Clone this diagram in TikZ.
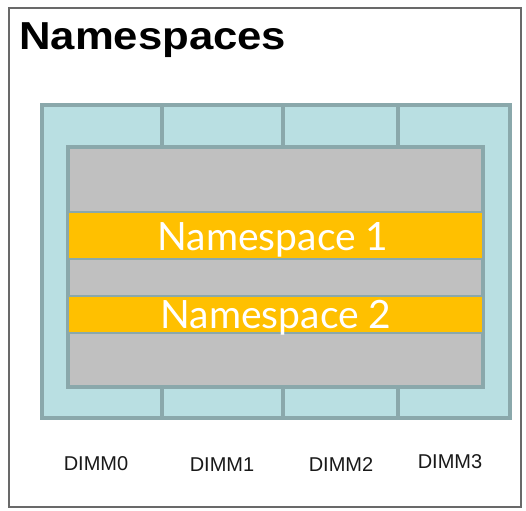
\documentclass[tikz,border=0pt]{standalone}
\usepackage{fontspec}
\setmainfont{Liberation Sans}
\newfontfamily\nsfont{Lato}
\definecolor{tealfill}{RGB}{185,223,226}
\definecolor{tealline}{RGB}{138,168,171}
\definecolor{grayfill}{RGB}{192,192,192}
\definecolor{nsyellow}{RGB}{255,192,0}
\definecolor{framec}{RGB}{105,105,105}
\begin{document}
\begin{tikzpicture}[x=1pt,y=-1pt,
  box/.style={rectangle,inner sep=0pt,outer sep=0pt,anchor=north west},
  dimmbox/.style={box,fill=tealfill,draw=tealline,line width=3.2pt},
  graybox/.style={box,fill=grayfill,draw=tealline,line width=3.2pt},
  nsband/.style={box,fill=nsyellow,draw=tealline,line width=2.2pt},
  nstext/.style={font=\nsfont\fontsize{39}{39}\selectfont,text=white,anchor=base,inner sep=0pt},
  dimmlabel/.style={font=\fontsize{20}{20}\selectfont,text=black!90,inner sep=0pt}]
\useasboundingbox (0,0) rectangle (526,510);
\fill[white] (0,0) rectangle (526,510);
% outer frame
\node[box,draw=framec,line width=2pt,minimum width=512pt,minimum height=499pt] (frame) at (9,8) {};
% title
\node[anchor=base west,inner sep=0pt,font=\bfseries\fontsize{39}{39}\selectfont] (title) at (19,50) {\scalebox{1.12}[1]{Namespaces}};
% DIMM columns
\node[dimmbox,minimum width=120pt,minimum height=313pt] (d0) at (42,105) {};
\node[dimmbox,minimum width=121pt,minimum height=313pt] (d1) at (162,105) {};
\node[dimmbox,minimum width=115pt,minimum height=313pt] (d2) at (283,105) {};
\node[dimmbox,minimum width=112pt,minimum height=313pt] (d3) at (398,105) {};
% gray block
\node[graybox,minimum width=415pt,minimum height=240pt] (gray) at (68,147) {};
% namespace bands
\node[nsband,minimum width=415pt,minimum height=47pt] (ns1) at (68,212) {};
\node[nsband,minimum width=415pt,minimum height=37pt] (ns2) at (68,296) {};
\node[nstext] (t1) at (273,250) {Namespace 1};
\node[nstext] (t2) at (276,328) {Namespace 2};
% labels
\node[dimmlabel] (l0) at (96,464) {DIMM0};
\node[dimmlabel] (l1) at (222,465) {DIMM1};
\node[dimmlabel] (l2) at (341,465) {DIMM2};
\node[dimmlabel] (l3) at (450,462) {DIMM3};
\end{tikzpicture}
\end{document}
